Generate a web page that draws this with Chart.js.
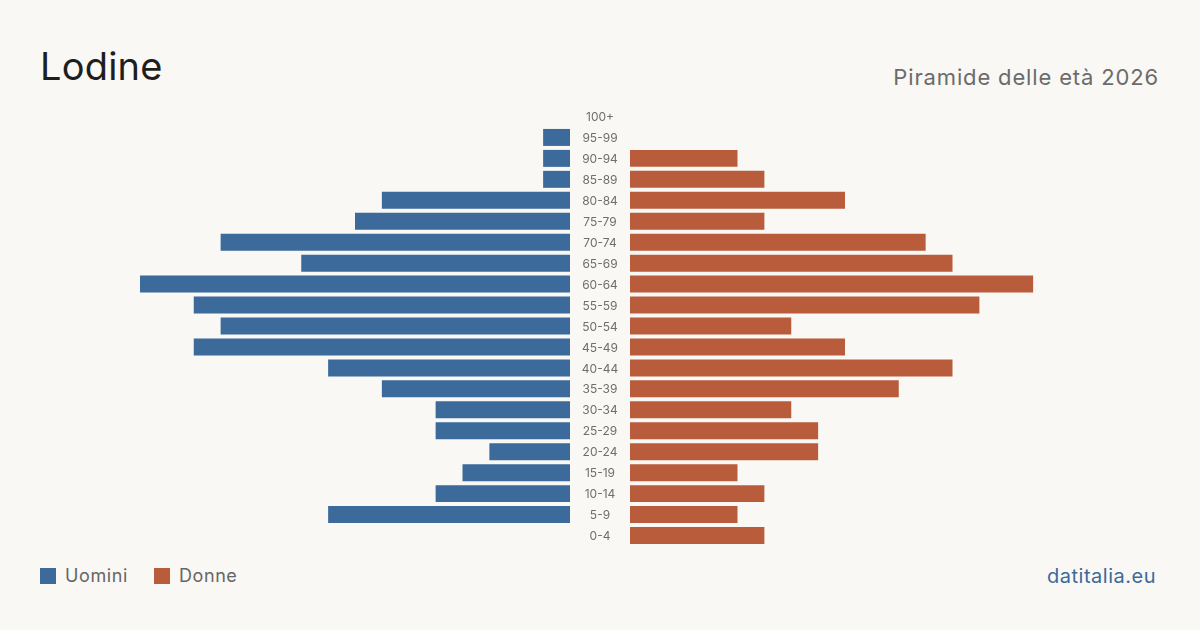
<!DOCTYPE html>
<html>
<head>
<meta charset="utf-8">
<script src="https://cdn.jsdelivr.net/npm/chart.js@4/dist/chart.umd.min.js"></script>
<style>
  html, body { margin: 0; padding: 0; }
  body { width: 1200px; height: 630px; background: #f9f8f4; position: relative; overflow: hidden; font-family: Inter, "Noto Sans", sans-serif; }
  #title { position: absolute; left: 40px; top: 40px; font-size: 38px; color: #1e1e1e; line-height: 52px; letter-spacing: 0.2px; }
  #subtitle { position: absolute; right: 41px; top: 62px; font-size: 22px; color: #6b6b6b; line-height: 30px; letter-spacing: 0.85px; }
  #left { position: absolute; left: 140px; top: 106px; width: 430px; height: 440px; }
  #right { position: absolute; left: 570px; top: 106px; width: 490px; height: 440px; }
  #legend { position: absolute; left: 40px; top: 563px; font-size: 18px; color: #666; display: flex; align-items: center; line-height: 26px; letter-spacing: 0.6px; }
  .sw { display: inline-block; width: 16px; height: 16px; margin-right: 9px; }
  .item { display: flex; align-items: center; margin-right: 26px; }
  #source { position: absolute; right: 44px; top: 562px; font-size: 20px; color: #3b6a9b; line-height: 28px; letter-spacing: 0.5px; }
</style>
</head>
<body>
<div id="title">Lodine</div>
<div id="subtitle">Piramide delle età 2026</div>
<div id="left"><canvas id="cl"></canvas></div>
<div id="right"><canvas id="cr"></canvas></div>
<div id="legend">
  <div class="item"><span class="sw" style="background:#3b6a9b"></span>Uomini</div>
  <div class="item"><span class="sw" style="background:#b95c3b"></span>Donne</div>
</div>
<div id="source">datitalia.eu</div>
<script>
const ageGroups = ["100+","95-99","90-94","85-89","80-84","75-79","70-74","65-69","60-64","55-59","50-54","45-49","40-44","35-39","30-34","25-29","20-24","15-19","10-14","5-9","0-4"];
const men   = [0,1,1,1,7,8,13,10,16,14,13,14,9,7,5,5,3,4,5,9,0];
const women = [0,0,4,5,8,5,11,12,15,13,6,8,12,10,6,7,7,4,5,4,5];
const menColor = "#3b6a9b";
const womenColor = "#b95c3b";
const maxVal = Math.max(...men, ...women);

Chart.defaults.font.family = "Inter, 'Noto Sans', sans-serif";
Chart.defaults.animation = false;

const common = {
  responsive: true,
  maintainAspectRatio: false,
  indexAxis: 'y',
  layout: { padding: 0 },
  plugins: { legend: { display: false }, tooltip: { enabled: false } },
};

new Chart(document.getElementById('cl'), {
  type: 'bar',
  data: { labels: ageGroups, datasets: [{ data: men, backgroundColor: menColor, categoryPercentage: 1, barPercentage: 0.81 }] },
  options: Object.assign({}, common, {
    scales: {
      x: { display: false, reverse: true, min: 0, max: maxVal },
      y: { display: false }
    }
  })
});

const centerLabels = {
  id: 'centerLabels',
  afterDraw(chart) {
    const ys = chart.scales.y;
    const ctx = chart.ctx;
    ctx.save();
    ctx.font = "12px Inter, 'Noto Sans', sans-serif";
    ctx.fillStyle = "#6e6e6e";
    ctx.textAlign = 'center';
    ctx.textBaseline = 'middle';
    const cx = (ys.left + ys.right) / 2;
    ageGroups.forEach((lab, i) => {
      ctx.fillText(lab, cx, ys.getPixelForTick(i) + 1);
    });
    ctx.restore();
  }
};

new Chart(document.getElementById('cr'), {
  type: 'bar',
  data: { labels: ageGroups, datasets: [{ data: women, backgroundColor: womenColor, categoryPercentage: 1, barPercentage: 0.81 }] },
  options: Object.assign({}, common, {
    scales: {
      x: { display: false, min: 0, max: maxVal },
      y: {
        display: true,
        grid: { display: false, drawTicks: false },
        border: { display: false },
        ticks: { display: false },
        afterFit(s) { s.width = 60; }
      }
    }
  }),
  plugins: [centerLabels]
});
</script>
</body>
</html>
